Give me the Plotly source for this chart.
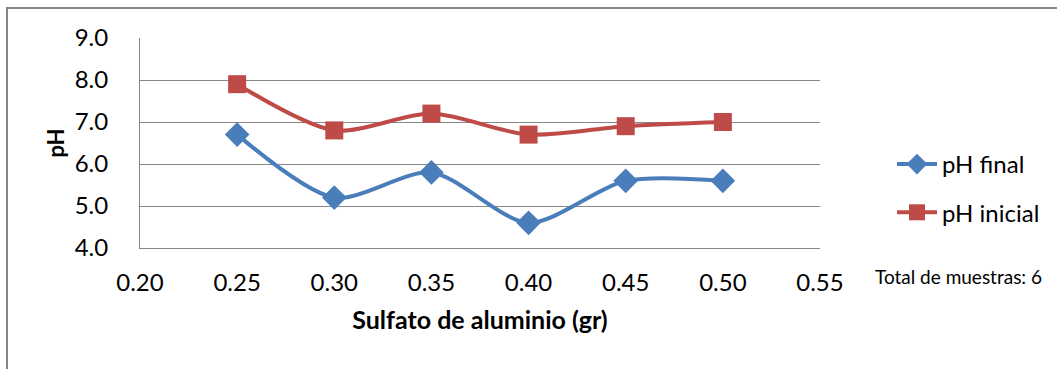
import plotly.graph_objects as go

# Dosis de sulfato de aluminio (gr) y pH medido
sulfato = [0.25, 0.30, 0.35, 0.40, 0.45, 0.50]
ph_final = [6.7, 5.2, 5.8, 4.6, 5.6, 5.6]
ph_inicial = [7.9, 6.8, 7.2, 6.7, 6.9, 7.0]
total_muestras = len(sulfato)

FONT = "Lato"
GRID = "#868686"
BLUE = "#4a7ebb"
RED = "#be4b48"

fig = go.Figure()
fig.add_trace(go.Scatter(
    x=sulfato, y=ph_final, name="pH final", mode="lines+markers",
    line=dict(color=BLUE, width=4, shape="spline", smoothing=0.8),
    marker=dict(symbol="diamond", size=19, color=BLUE),
    legendgroup="a",
))
fig.add_trace(go.Scatter(
    x=sulfato, y=ph_inicial, name="pH inicial", mode="lines+markers",
    line=dict(color=RED, width=4, shape="spline", smoothing=0.8),
    marker=dict(symbol="square", size=18, color=RED),
    legendgroup="b",
))

W, H = 1057, 369
L, R, T, B = 140, 237, 38, 121
pw, ph = W - L - R, H - T - B


def px(x):
    return (x - L) / pw


def py(y):
    return (H - B - y) / ph


fig.update_layout(
    width=W, height=H,
    margin=dict(l=L, r=R, t=T, b=B),
    paper_bgcolor="white", plot_bgcolor="white",
    font=dict(family=FONT, color="black", size=24),
    xaxis=dict(
        range=[0.2, 0.55], dtick=0.05, tick0=0.2, tickformat=".2f",
        showgrid=False, zeroline=False, showline=True, linecolor=GRID, linewidth=1,
        ticks="", ticklabelstandoff=13,
        tickfont=dict(size=24),
        title=dict(text="<b>Sulfato de aluminio (gr)</b>", font=dict(size=25), standoff=16),
    ),
    yaxis=dict(
        range=[4, 9], dtick=1, tick0=4, tickformat=".1f",
        showgrid=True, gridcolor=GRID, gridwidth=1, zeroline=False,
        showline=True, linecolor=GRID, linewidth=1,
        ticks="", ticklabelstandoff=26,
        tickfont=dict(size=24),
        title=dict(text="<b>pH</b>", font=dict(size=22), standoff=3),
    ),
    legend=dict(
        x=px(892), y=py(142), xanchor="left", yanchor="top",
        font=dict(size=24), bgcolor="rgba(0,0,0,0)",
        traceorder="grouped", tracegroupgap=14, itemwidth=40,
    ),
    showlegend=True,
    shapes=[dict(
        type="rect", xref="paper", yref="paper",
        x0=px(7), y0=py(H + 20), x1=px(W + 20), y1=py(8),
        line=dict(color=GRID, width=2), fillcolor="rgba(0,0,0,0)", layer="below",
    )],
    annotations=[dict(
        text=f"Total de muestras: {total_muestras}", xref="paper", yref="paper",
        x=px(873), y=py(276), xanchor="left", yanchor="middle",
        showarrow=False, font=dict(size=19, family=FONT),
    )],
)

fig.write_html("out.html")
